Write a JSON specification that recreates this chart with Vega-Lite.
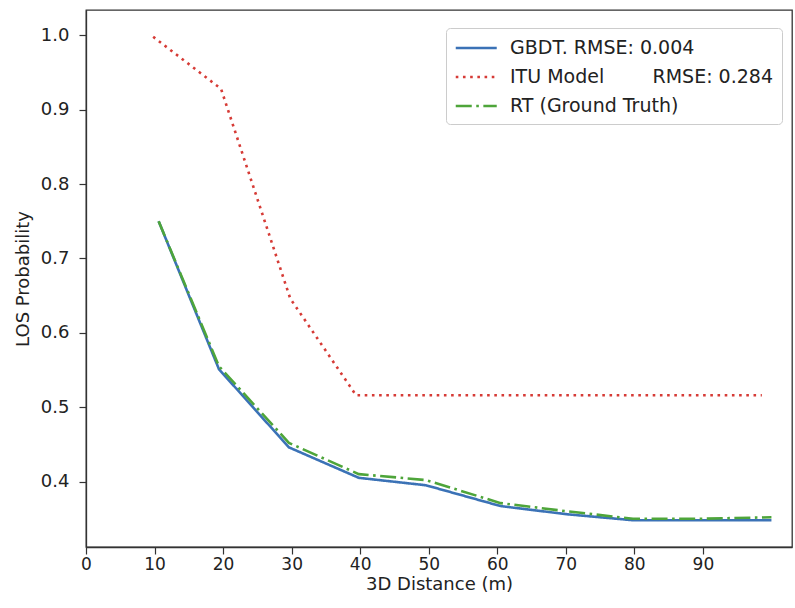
{
  "$schema": "https://vega.github.io/schema/vega-lite/v6.json",
  "width": 706,
  "height": 537,
  "padding": {"left": 86, "top": 10, "right": 3, "bottom": 61},
  "autosize": {"type": "none"},
  "background": "white",
  "config": {
    "font": "DejaVu Sans",
    "view": {"stroke": "#333", "strokeWidth": 1.3},
    "axis": {"grid": false, "domainColor": "#333", "tickColor": "#333", "labelColor": "#222", "titleColor": "#222", "labelFont": "DejaVu Sans", "titleFont": "DejaVu Sans", "titleFontWeight": "normal", "labelFontSize": 18, "titleFontSize": 18, "tickSize": 7, "domainWidth": 1.3, "tickWidth": 1.2}
  },
  "data": {
    "values": [
      {"series": "GBDT", "x": 10.6, "y": 0.750},
      {"series": "GBDT", "x": 19.4, "y": 0.551},
      {"series": "GBDT", "x": 29.6, "y": 0.446},
      {"series": "GBDT", "x": 39.8, "y": 0.405},
      {"series": "GBDT", "x": 49.6, "y": 0.395},
      {"series": "GBDT", "x": 60.5, "y": 0.367},
      {"series": "GBDT", "x": 70.2, "y": 0.356},
      {"series": "GBDT", "x": 79.8, "y": 0.348},
      {"series": "GBDT", "x": 90.0, "y": 0.348},
      {"series": "GBDT", "x": 100.0, "y": 0.348},
      {"series": "ITU", "x": 9.8, "y": 0.998},
      {"series": "ITU", "x": 19.7, "y": 0.928},
      {"series": "ITU", "x": 29.8, "y": 0.646},
      {"series": "ITU", "x": 39.4, "y": 0.516},
      {"series": "ITU", "x": 49.4, "y": 0.516},
      {"series": "ITU", "x": 59.4, "y": 0.516},
      {"series": "ITU", "x": 69.4, "y": 0.516},
      {"series": "ITU", "x": 79.4, "y": 0.516},
      {"series": "ITU", "x": 89.4, "y": 0.516},
      {"series": "ITU", "x": 98.6, "y": 0.516},
      {"series": "RT", "x": 10.6, "y": 0.750},
      {"series": "RT", "x": 19.4, "y": 0.555},
      {"series": "RT", "x": 29.6, "y": 0.452},
      {"series": "RT", "x": 39.8, "y": 0.410},
      {"series": "RT", "x": 49.6, "y": 0.402},
      {"series": "RT", "x": 60.5, "y": 0.371},
      {"series": "RT", "x": 70.2, "y": 0.360},
      {"series": "RT", "x": 79.8, "y": 0.350},
      {"series": "RT", "x": 90.0, "y": 0.350},
      {"series": "RT", "x": 100.0, "y": 0.352}
    ]
  },
  "mark": {"type": "line", "strokeWidth": 2.6, "clip": true},
  "encoding": {
    "x": {
      "field": "x", "type": "quantitative",
      "scale": {"domain": [0, 103], "nice": false, "zero": false},
      "axis": {"values": [0, 10, 20, 30, 40, 50, 60, 70, 80, 90], "title": "3D Distance (m)", "labelPadding": 2, "titlePadding": 3, "labelFlush": false, "labelFontSize": 17}
    },
    "y": {
      "field": "y", "type": "quantitative",
      "scale": {"domain": [0.312, 1.034], "nice": false, "zero": false},
      "axis": {"values": [0.4, 0.5, 0.6, 0.7, 0.8, 0.9, 1.0], "format": ".1f", "title": "LOS Probability", "labelPadding": 10, "titlePadding": 8}
    },
    "color": {
      "field": "series", "type": "nominal",
      "scale": {"domain": ["GBDT", "ITU", "RT"], "range": ["#3b72b6", "#d63b36", "#4ea53a"]},
      "legend": {
        "title": null,
        "orient": "none",
        "legendX": 360,
        "legendY": 18,
        "symbolType": "M-1,0H3",
        "symbolStrokeWidth": 2.6,
        "symbolSize": 420,
        "labelFontSize": 19,
        "labelFont": "DejaVu Sans",
        "labelColor": "#222",
        "labelOffset": 32,
        "labelLimit": 0,
        "rowPadding": 7,
        "padding": 8,
        "strokeColor": "#cccccc",
        "fillColor": "white",
        "cornerRadius": 4,
        "labelExpr": "datum.value == 'GBDT' ? 'GBDT. RMSE: 0.004' : datum.value == 'ITU' ? '\u00a0ITU Model\u00a0\u00a0\u00a0\u00a0\u00a0\u00a0\u00a0\u00a0RMSE: 0.284' : 'RT (Ground Truth)'"
      }
    },
    "strokeDash": {
      "field": "series", "type": "nominal",
      "scale": {"domain": ["GBDT", "ITU", "RT"], "range": [[1, 0], [2.6, 4.6], [16, 4.5, 2.6, 4.5]]},
      "legend": null
    },
    "order": {"field": "x", "type": "quantitative"}
  }
}
